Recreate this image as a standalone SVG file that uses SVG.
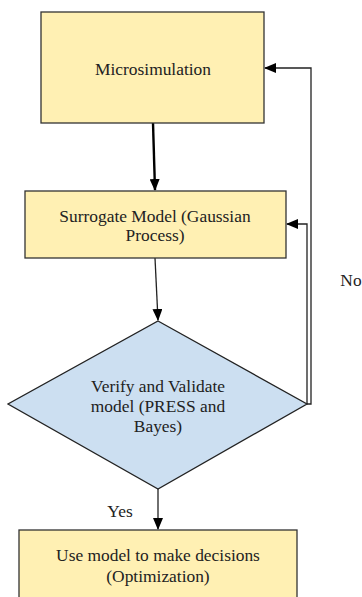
<svg xmlns="http://www.w3.org/2000/svg" width="362" height="597" viewBox="0 0 362 597">
<style>
.box{fill:#FFF0B3;stroke:#333;stroke-width:1.3}
.dia{fill:#CCDFF1;stroke:#222;stroke-width:1.3}
.t{font-family:'Liberation Serif','Times New Roman','DejaVu Serif',serif;font-size:17.4px;fill:#222;text-anchor:middle;dominant-baseline:central}
.c{fill:none;stroke:#222;stroke-width:1.3}
</style>
<defs>
<marker id="ah" markerWidth="12" markerHeight="10" refX="11" refY="5" orient="auto" markerUnits="userSpaceOnUse"><path d="M0,0 L12,5 L0,10 Z" fill="#000"/></marker>
</defs>
<g id="connectors">
<path class="c" d="M153,123 L155,190" style="stroke-width:2.4;stroke:#000" marker-end="url(#ah)"/>
<path class="c" d="M155,258 L158,320" marker-end="url(#ah)"/>
<path class="c" d="M158,489 L158,529" marker-end="url(#ah)"/>
<path class="c" d="M307,404 L311,404 L311,68 L265,68" marker-end="url(#ah)"/>
<path class="c" d="M307,404 L307,224 L287,224" marker-end="url(#ah)"/>
<text class="t" x="351" y="280">No</text>
<text class="t" x="120" y="511">Yes</text>
</g>
<g id="microsimulation">
<rect class="box" x="41" y="12" width="223" height="111"/>
<text class="t" x="153" y="69">Microsimulation</text>
</g>
<g id="surrogate">
<rect class="box" x="25" y="191" width="261" height="67"/>
<text class="t" x="155" y="216">Surrogate Model (Gaussian</text>
<text class="t" x="155" y="235">Process)</text>
</g>
<g id="verify">
<polygon class="dia" points="158,321 307,404 158,489 8,404"/>
<text class="t" x="158" y="386">Verify and Validate</text>
<text class="t" x="158" y="406">model (PRESS and</text>
<text class="t" x="158" y="426">Bayes)</text>
</g>
<g id="decide">
<rect class="box" x="19" y="530" width="278" height="80"/>
<text class="t" x="158" y="555">Use model to make decisions</text>
<text class="t" x="158" y="576">(Optimization)</text>
</g>
</svg>
